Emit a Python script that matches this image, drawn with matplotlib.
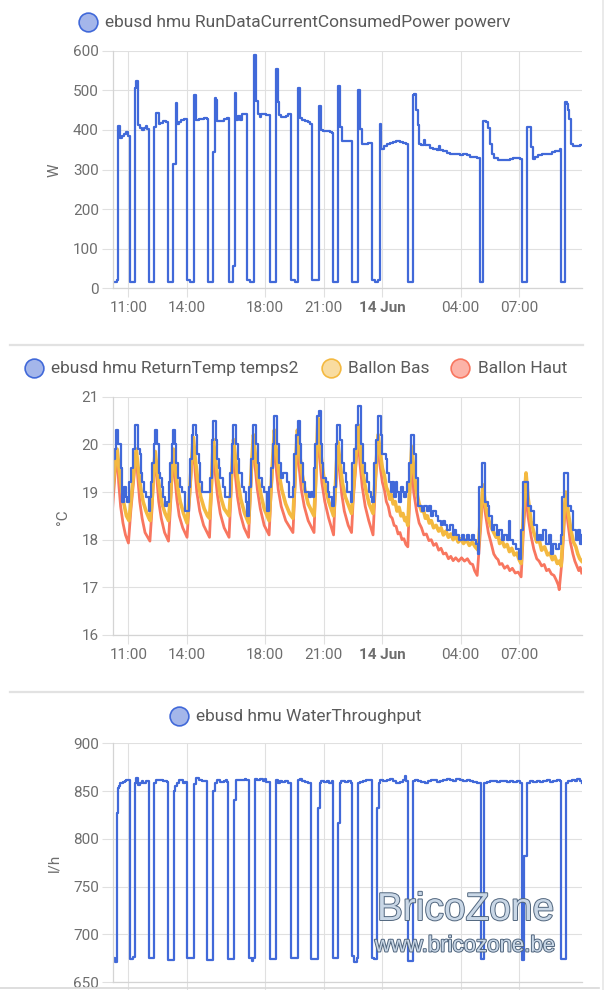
import matplotlib
matplotlib.use('Agg')
import matplotlib.pyplot as plt
from matplotlib.lines import Line2D
import matplotlib.patheffects as pe

plt.rcParams['font.family'] = ['Roboto', 'DejaVu Sans']

# time axis: hours since 13 Jun 00:00, window 10:12 -> 10:12 next day
t_start, t_end = 10.2, 34.2
tick_hours = [11, 14, 18, 21, 24, 28, 31]
tick_labels = ['11:00', '14:00', '18:00', '21:00', '14 Jun', '04:00', '07:00']

# RunDataCurrentConsumedPower (W), step values (time, value)
power_steps = [
    (10.18, 17), (10.42, 22), (10.47, 410), (10.56, 380), (10.66, 385), (10.76, 390), (10.86, 395), (10.98, 385), (11.07, 17),
    (11.36, 505), (11.41, 523), (11.51, 413), (11.58, 405), (11.67, 400), (11.78, 405), (11.89, 410), (11.96, 403), (12.06, 17),
    (12.31, 408), (12.43, 443), (12.54, 414), (12.64, 418), (12.77, 422), (12.91, 419), (13.00, 22), (13.05, 17),
    (13.29, 315), (13.41, 468), (13.51, 416), (13.59, 420), (13.71, 424), (13.83, 428), (14.00, 22), (14.14, 17),
    (14.36, 487), (14.48, 426), (14.60, 427), (14.74, 428), (14.86, 430), (15.03, 428), (15.08, 17),
    (15.33, 344), (15.42, 481), (15.47, 475), (15.51, 422), (15.64, 423), (15.78, 422), (15.91, 427), (16.07, 430), (16.15, 17),
    (16.36, 56), (16.44, 493), (16.53, 426), (16.61, 434), (16.70, 426), (16.79, 439), (16.90, 441), (17.09, 22), (17.21, 17),
    (17.42, 590), (17.52, 473), (17.62, 441), (17.72, 433), (17.81, 439), (17.93, 440), (18.06, 437), (18.27, 17),
    (18.54, 553), (18.63, 470), (18.71, 437), (18.83, 433), (18.95, 432), (19.09, 435), (19.19, 441), (19.31, 22), (19.52, 17),
    (19.69, 506), (19.79, 431), (19.89, 424), (20.03, 422), (20.20, 421), (20.28, 416), (20.39, 20),
    (20.74, 460), (20.86, 400), (20.97, 397), (21.14, 397), (21.31, 395), (21.43, 392), (21.48, 17),
    (21.73, 512), (21.82, 407), (21.92, 372), (22.46, 17),
    (22.75, 500), (22.87, 403), (22.96, 365), (23.26, 366), (23.47, 22), (23.61, 17), (23.78, 20),
    (23.86, 414), (23.95, 353), (24.07, 359), (24.21, 364), (24.38, 368), (24.55, 370), (24.72, 371), (24.89, 370), (25.06, 368), (25.23, 365), (25.30, 17),
    (25.54, 487), (25.61, 490), (25.71, 451), (25.83, 412), (25.88, 364), (26.00, 361), (26.12, 374), (26.20, 361), (26.43, 355),
    (26.60, 352), (26.77, 350), (26.90, 359), (26.97, 350), (27.08, 347), (27.28, 342), (27.45, 338), (27.62, 340), (27.79, 339),
    (27.97, 336), (28.14, 338), (28.31, 336), (28.48, 332), (28.65, 332), (28.82, 330), (28.90, 328), (28.99, 17),
    (29.16, 422), (29.28, 420), (29.38, 406), (29.50, 365), (29.62, 340), (29.71, 328), (29.93, 325), (30.19, 325), (30.36, 323),
    (30.53, 326), (30.70, 328), (30.87, 328), (31.04, 327), (31.13, 17),
    (31.38, 407), (31.59, 357), (31.69, 326), (31.81, 332), (31.98, 336), (32.15, 338), (32.32, 338), (32.50, 340), (32.67, 343),
    (32.84, 347), (33.09, 352), (33.13, 17),
    (33.35, 470), (33.44, 465), (33.50, 450), (33.57, 428), (33.64, 365), (33.78, 360), (33.95, 360), (34.12, 362), (34.20, 362),
]

# ReturnTemp temps2 (deg C), step values
return_temp = [
    (10.18, 19.0), (10.21, 19.7), (10.30, 19.9), (10.38, 20.3), (10.49, 20.0), (10.61, 19.5), (10.69, 18.8), (10.78, 19.1), (10.86, 18.9), (10.95, 18.8),
    (11.03, 19.2), (11.14, 19.5), (11.24, 19.9), (11.34, 20.4), (11.51, 19.9), (11.58, 19.8), (11.65, 19.4), (11.72, 19.2), (11.82, 19.0), (11.92, 18.9), (12.03, 18.6), (12.09, 18.9),
    (12.16, 19.2), (12.23, 19.6), (12.30, 20.0), (12.35, 20.3), (12.47, 20.0), (12.54, 19.4), (12.64, 19.3), (12.71, 19.1), (12.78, 18.9), (12.88, 18.7), (12.98, 18.8),
    (13.09, 19.2), (13.14, 19.6), (13.22, 20.0), (13.29, 20.3), (13.39, 20.0), (13.46, 19.6), (13.56, 19.3), (13.65, 19.1), (13.74, 19.0), (13.87, 18.6),
    (14.08, 19.1), (14.15, 19.7), (14.25, 20.2), (14.32, 20.4), (14.45, 20.2), (14.52, 19.8), (14.59, 19.6), (14.66, 19.2), (14.79, 19.0),
    (15.19, 19.3), (15.27, 20.1), (15.34, 20.5), (15.48, 20.1), (15.55, 19.7), (15.62, 19.5), (15.70, 19.3), (15.82, 19.1), (15.96, 18.9),
    (16.20, 19.4), (16.30, 20.0), (16.37, 20.4), (16.50, 20.0), (16.59, 19.7), (16.68, 19.4), (16.81, 19.1), (16.93, 19.0), (17.02, 18.8), (17.09, 18.5), (17.19, 19.1),
    (17.27, 19.7), (17.36, 20.4), (17.53, 20.0), (17.62, 19.6), (17.70, 19.3), (17.82, 19.1), (17.96, 19.0), (18.08, 18.6), (18.18, 19.1),
    (18.28, 19.5), (18.38, 20.0), (18.45, 20.6), (18.59, 20.0), (18.69, 19.6), (18.79, 19.3), (18.90, 19.4), (19.10, 19.2), (19.21, 18.9), (19.41, 19.1),
    (19.46, 19.8), (19.58, 20.2), (19.67, 20.5), (19.79, 20.0), (19.85, 19.6), (19.96, 19.2), (20.06, 19.0), (20.23, 18.9), (20.35, 19.0), (20.44, 18.9), (20.52, 19.5),
    (20.57, 20.0), (20.66, 20.6), (20.73, 20.7), (20.85, 20.0), (20.91, 19.6), (20.98, 19.3), (21.09, 19.2), (21.19, 19.0), (21.29, 18.9), (21.41, 18.7), (21.50, 19.1),
    (21.63, 20.0), (21.70, 20.4), (21.84, 20.1), (21.94, 19.6), (22.03, 19.4), (22.12, 19.2), (22.21, 19.0), (22.38, 18.8),
    (22.46, 19.6), (22.55, 19.9), (22.67, 20.4), (22.75, 20.8), (22.89, 20.0), (23.01, 19.6), (23.11, 19.4), (23.23, 19.2), (23.32, 19.0), (23.40, 18.9), (23.49, 18.8),
    (23.57, 19.6), (23.66, 20.1), (23.76, 20.6), (23.91, 20.2), (24.00, 19.8), (24.17, 19.7), (24.26, 19.4), (24.34, 19.2), (24.43, 19.0), (24.51, 19.2),
    (24.60, 18.9), (24.68, 19.2), (24.77, 19.0), (24.85, 18.8), (24.94, 19.1), (25.03, 19.0), (25.11, 18.9), (25.20, 19.0), (25.28, 19.2),
    (25.37, 19.6), (25.44, 20.2), (25.62, 19.8), (25.70, 19.3), (25.84, 18.7), (26.05, 18.6), (26.14, 18.7), (26.26, 18.6), (26.39, 18.7),
    (26.48, 18.5), (26.60, 18.6), (26.74, 18.5), (26.87, 18.4), (26.99, 18.3), (27.11, 18.4), (27.21, 18.3), (27.33, 18.2), (27.45, 18.3),
    (27.59, 18.1), (27.68, 18.2), (27.79, 18.1), (27.93, 18.0), (28.07, 18.1), (28.19, 18.0), (28.31, 18.1), (28.44, 18.0), (28.58, 18.1),
    (28.70, 18.0), (28.79, 17.9), (28.87, 17.7),
    (28.96, 19.1), (29.09, 19.6), (29.26, 18.8), (29.38, 18.7), (29.47, 18.5), (29.61, 18.2), (29.73, 18.3), (29.85, 18.1), (29.98, 18.2),
    (30.12, 18.0), (30.24, 18.1), (30.36, 18.0), (30.46, 18.4), (30.52, 18.0), (30.70, 17.9), (30.84, 17.8), (31.01, 17.6), (31.09, 18.2),
    (31.22, 19.2), (31.45, 18.7), (31.59, 18.6), (31.78, 18.3), (31.90, 18.0), (32.00, 18.1), (32.12, 18.0), (32.24, 18.2), (32.38, 17.9),
    (32.51, 18.1), (32.62, 17.7), (32.75, 17.9), (32.89, 17.8), (33.03, 17.9), (33.13, 18.1),
    (33.21, 18.9), (33.30, 19.4), (33.50, 18.7), (33.66, 18.6), (33.78, 18.2), (33.91, 18.0), (34.00, 18.2), (34.09, 17.9), (34.20, 18.1),
]

# Ballon Bas (deg C)
ballon_bas = [
    (10.18, 19.0), (10.30, 19.5), (10.42, 19.9), (10.52, 19.5), (10.64, 19.1), (10.77, 18.75), (10.90, 18.5), (11.03, 18.4),
    (11.15, 18.9), (11.30, 19.55), (11.40, 19.9), (11.50, 19.5), (11.62, 19.1), (11.75, 18.8), (11.90, 18.6), (12.05, 18.45), (12.12, 18.4),
    (12.22, 18.9), (12.30, 19.5), (12.37, 19.85), (12.47, 19.45), (12.60, 19.05), (12.72, 18.75), (12.88, 18.55), (13.05, 18.4),
    (13.15, 18.9), (13.23, 19.5), (13.30, 19.9), (13.40, 19.5), (13.52, 19.1), (13.65, 18.8), (13.82, 18.55), (14.00, 18.35),
    (14.12, 18.9), (14.22, 19.6), (14.32, 20.15), (14.42, 19.7), (14.55, 19.25), (14.70, 18.9), (14.88, 18.65), (15.05, 18.5), (15.15, 18.45),
    (15.22, 18.9), (15.29, 19.6), (15.35, 20.1), (15.45, 19.7), (15.58, 19.25), (15.72, 18.9), (15.90, 18.65), (16.15, 18.5),
    (16.23, 19.0), (16.31, 19.6), (16.38, 20.1), (16.48, 19.7), (16.60, 19.25), (16.75, 18.85), (16.95, 18.55), (17.15, 18.35),
    (17.23, 19.0), (17.32, 19.7), (17.40, 20.2), (17.50, 19.75), (17.63, 19.3), (17.78, 18.95), (17.95, 18.65), (18.20, 18.4),
    (18.30, 19.1), (18.40, 19.8), (18.47, 20.3), (18.57, 19.85), (18.70, 19.4), (18.85, 19.05), (19.05, 18.75), (19.25, 18.55), (19.42, 18.45),
    (19.50, 19.1), (19.58, 19.8), (19.65, 20.3), (19.75, 19.85), (19.88, 19.4), (20.03, 19.05), (20.20, 18.75), (20.50, 18.5),
    (20.57, 19.1), (20.64, 19.9), (20.70, 20.55), (20.80, 20.0), (20.93, 19.5), (21.08, 19.1), (21.25, 18.8), (21.50, 18.5),
    (21.58, 19.0), (21.65, 19.6), (21.72, 20.05), (21.82, 19.65), (21.95, 19.2), (22.10, 18.9), (22.28, 18.7), (22.42, 18.55),
    (22.52, 19.1), (22.65, 19.8), (22.77, 20.4), (22.87, 19.9), (23.00, 19.4), (23.15, 19.05), (23.32, 18.75), (23.52, 18.55),
    (23.60, 19.1), (23.70, 19.7), (23.78, 20.2), (23.90, 19.8), (24.00, 19.5), (24.10, 19.35), (24.20, 19.1), (24.30, 19.0),
    (24.38, 18.85), (24.45, 18.95), (24.55, 18.75), (24.65, 18.8), (24.75, 18.6), (24.85, 18.68), (24.95, 18.5), (25.05, 18.55),
    (25.15, 18.4), (25.22, 18.45), (25.30, 18.3),
    (25.38, 19.0), (25.50, 19.95), (25.62, 19.4), (25.75, 19.0), (25.88, 18.75), (26.00, 18.6), (26.10, 18.62), (26.20, 18.45),
    (26.30, 18.5), (26.40, 18.35), (26.50, 18.4), (26.62, 18.25), (26.75, 18.3), (26.88, 18.18), (27.00, 18.25), (27.12, 18.1),
    (27.25, 18.18), (27.38, 18.05), (27.50, 18.12), (27.62, 18.0), (27.75, 18.08), (27.88, 17.95), (28.00, 18.02), (28.15, 17.92),
    (28.30, 18.0), (28.45, 17.88), (28.60, 17.95), (28.75, 17.85), (28.90, 17.78),
    (29.02, 18.5), (29.15, 19.15), (29.28, 18.7), (29.45, 18.4), (29.58, 18.25), (29.70, 18.15), (29.82, 18.05), (29.92, 18.1),
    (30.00, 17.92), (30.12, 17.98), (30.25, 17.85), (30.38, 17.9), (30.50, 17.75), (30.62, 17.82), (30.75, 17.68), (30.88, 17.72),
    (31.00, 17.58), (31.10, 17.5),
    (31.22, 18.6), (31.35, 19.4), (31.45, 18.9), (31.60, 18.4), (31.75, 18.15), (31.90, 17.95), (32.02, 18.0), (32.15, 17.78),
    (32.30, 17.85), (32.45, 17.68), (32.58, 17.72), (32.70, 17.58), (32.82, 17.65), (32.95, 17.5), (33.05, 17.55), (33.15, 17.45),
    (33.27, 18.4), (33.38, 19.0), (33.50, 18.6), (33.65, 18.2), (33.78, 17.95), (33.90, 17.85), (34.00, 17.7), (34.10, 17.6), (34.20, 17.55),
]

# Ballon Haut (deg C)
ballon_haut = [
    (10.18, 18.6), (10.30, 19.3), (10.42, 19.85), (10.50, 19.2), (10.60, 18.7), (10.72, 18.35), (10.85, 18.1), (11.00, 17.93),
    (11.12, 18.6), (11.28, 19.3), (11.40, 19.85), (11.48, 19.3), (11.58, 18.8), (11.70, 18.45), (11.85, 18.15), (12.10, 17.97),
    (12.20, 18.6), (12.29, 19.3), (12.37, 19.85), (12.45, 19.3), (12.55, 18.8), (12.68, 18.45), (12.85, 18.15), (13.05, 17.97),
    (13.14, 18.6), (13.23, 19.3), (13.30, 19.85), (13.38, 19.3), (13.48, 18.85), (13.60, 18.5), (13.78, 18.25), (14.00, 18.05),
    (14.10, 18.7), (14.22, 19.45), (14.32, 20.1), (14.40, 19.5), (14.50, 19.0), (14.65, 18.6), (14.85, 18.3), (15.15, 18.05),
    (15.22, 18.7), (15.29, 19.4), (15.35, 20.0), (15.43, 19.45), (15.55, 18.95), (15.70, 18.55), (15.90, 18.25), (16.15, 18.05),
    (16.22, 18.7), (16.30, 19.4), (16.38, 19.95), (16.46, 19.4), (16.58, 18.9), (16.72, 18.55), (16.92, 18.25), (17.15, 18.05),
    (17.22, 18.75), (17.31, 19.5), (17.40, 20.15), (17.48, 19.55), (17.60, 19.05), (17.75, 18.65), (17.95, 18.3), (18.20, 18.1),
    (18.28, 18.8), (18.38, 19.5), (18.47, 20.15), (18.55, 19.55), (18.67, 19.05), (18.82, 18.7), (19.05, 18.4), (19.42, 18.15),
    (19.49, 18.8), (19.57, 19.5), (19.65, 20.15), (19.73, 19.55), (19.85, 19.05), (20.00, 18.7), (20.20, 18.4), (20.50, 18.15),
    (20.56, 18.85), (20.63, 19.6), (20.70, 20.4), (20.78, 19.75), (20.90, 19.2), (21.05, 18.8), (21.25, 18.45), (21.50, 18.1),
    (21.57, 18.8), (21.65, 19.4), (21.72, 20.0), (21.80, 19.45), (21.92, 18.95), (22.05, 18.6), (22.25, 18.3), (22.42, 18.15),
    (22.50, 18.8), (22.63, 19.5), (22.77, 20.15), (22.85, 19.6), (22.97, 19.1), (23.12, 18.7), (23.30, 18.4), (23.52, 18.1),
    (23.60, 18.8), (23.69, 19.5), (23.78, 20.15), (23.86, 19.6), (24.00, 19.2), (24.10, 19.05), (24.20, 18.8), (24.30, 18.7),
    (24.40, 18.5), (24.50, 18.45), (24.60, 18.3), (24.70, 18.28), (24.80, 18.12), (24.90, 18.15), (25.00, 18.0), (25.10, 18.02),
    (25.20, 17.9), (25.30, 17.85),
    (25.38, 18.7), (25.50, 19.75), (25.60, 19.0), (25.75, 18.6), (25.88, 18.35), (26.00, 18.25), (26.12, 18.1), (26.25, 18.12),
    (26.38, 17.98), (26.50, 18.0), (26.62, 17.88), (26.75, 17.92), (26.88, 17.78), (27.00, 17.82), (27.12, 17.7), (27.25, 17.72),
    (27.38, 17.6), (27.50, 17.65), (27.62, 17.56), (27.75, 17.62), (27.90, 17.55), (28.05, 17.62), (28.20, 17.55), (28.35, 17.6),
    (28.50, 17.5), (28.62, 17.48), (28.72, 17.35), (28.85, 17.25),
    (29.02, 18.2), (29.15, 19.1), (29.25, 18.6), (29.42, 18.15), (29.55, 17.95), (29.70, 17.7), (29.82, 17.62), (29.92, 17.58),
    (30.00, 17.48), (30.12, 17.5), (30.25, 17.4), (30.40, 17.45), (30.52, 17.35), (30.65, 17.4), (30.80, 17.3), (30.95, 17.32), (31.10, 17.22),
    (31.22, 18.2), (31.35, 19.0), (31.45, 18.5), (31.62, 18.05), (31.75, 17.8), (31.90, 17.6), (32.02, 17.55), (32.15, 17.45),
    (32.28, 17.48), (32.40, 17.35), (32.52, 17.38), (32.65, 17.28), (32.78, 17.25), (32.90, 17.15), (33.00, 17.05), (33.05, 16.95),
    (33.20, 17.6), (33.38, 18.85), (33.48, 18.4), (33.62, 17.95), (33.75, 17.7), (33.85, 17.55), (33.95, 17.45), (34.05, 17.35),
    (34.12, 17.42), (34.20, 17.3),
]

# WaterThroughput (l/h), step values
water_steps = [
    (10.18, 675), (10.30, 671.5), (10.39, 827), (10.47, 853.5), (10.52, 855), (10.59, 858.7), (10.73, 859.5), (10.81, 860.5), (10.90, 861.5), (11.07, 674), (11.24, 676),
    (11.34, 858.7), (11.41, 864), (11.49, 856), (11.58, 858), (11.67, 860.5), (11.75, 858.7), (11.92, 860.5), (12.06, 675),
    (12.31, 858.7), (12.43, 861.5), (12.60, 862), (12.77, 860.5), (12.95, 859.5), (13.03, 673),
    (13.32, 850), (13.39, 855), (13.49, 858.7), (13.59, 862), (13.71, 861.5), (13.80, 858.7), (13.92, 859.5), (14.00, 675),
    (14.36, 857), (14.48, 864), (14.60, 861.5), (14.74, 860.5), (14.91, 860.5), (15.03, 673),
    (15.33, 850), (15.42, 858), (15.54, 862), (15.68, 859.5), (15.88, 860.5), (15.98, 862), (16.07, 859.5), (16.10, 674),
    (16.41, 840.5), (16.49, 861.5), (16.61, 862), (16.79, 861.5), (16.96, 863), (17.04, 862), (17.16, 675), (17.30, 672), (17.38, 675),
    (17.48, 863), (17.59, 862), (17.72, 863), (17.89, 860.5), (17.98, 863), (18.06, 859.5), (18.24, 674),
    (18.53, 861.5), (18.63, 858.7), (18.75, 860.5), (18.88, 859.5), (19.00, 860.5), (19.17, 858.7), (19.31, 675),
    (19.69, 861.5), (19.77, 863), (19.86, 860.5), (20.03, 859.5), (20.20, 858.7), (20.32, 858), (20.37, 674),
    (20.71, 832.5), (20.80, 858.7), (20.88, 860.5), (21.00, 859.5), (21.14, 860.5), (21.27, 858.7), (21.43, 860.5), (21.48, 675),
    (21.73, 816.8), (21.82, 858.7), (21.90, 860.5), (22.08, 859.5), (22.25, 860.5), (22.41, 858),
    (22.46, 677), (22.56, 671.5), (22.70, 675),
    (22.75, 858.7), (22.84, 859.5), (23.01, 860.5), (23.18, 861.5), (23.35, 862), (23.47, 675), (23.57, 674),
    (23.73, 832.5), (23.81, 858.7), (23.86, 861.5), (24.03, 860.5), (24.21, 862), (24.38, 863), (24.55, 860.5), (24.72, 858.7),
    (24.89, 859.5), (25.06, 861.5), (25.18, 865.7), (25.23, 860.5), (25.32, 672.6),
    (25.54, 860.5), (25.66, 862), (25.83, 860.5), (26.00, 859.5), (26.17, 858.7), (26.34, 860.5), (26.51, 861.5), (26.77, 859.5),
    (26.94, 860.5), (27.11, 861.5), (27.28, 863), (27.45, 862), (27.62, 860.5), (27.79, 863), (27.97, 862), (28.14, 860.5),
    (28.31, 861.5), (28.48, 860.5), (28.65, 859.5), (28.82, 858.7), (28.99, 858), (29.03, 674),
    (29.20, 858.7), (29.33, 859.5), (29.50, 860.5), (29.68, 860.5), (29.85, 859.5), (30.02, 860.5), (30.19, 860.5), (30.36, 859.5),
    (30.53, 860.5), (30.70, 859.5), (30.87, 860.5), (31.04, 858.7), (31.13, 673),
    (31.26, 781.8), (31.38, 858.7), (31.56, 860.5), (31.73, 859.5), (31.90, 860.5), (32.07, 859.5), (32.24, 860.5), (32.41, 861.5),
    (32.58, 859.5), (32.75, 860.5), (32.92, 861.5), (33.09, 860.5), (33.16, 674),
    (33.38, 858.7), (33.52, 860.5), (33.69, 862), (33.86, 860.5), (33.98, 863), (34.09, 860.5), (34.20, 858.7),
]

BLUE = '#4169d9'
YELLOW = '#f4b940'
RED = '#f8765f'
GRID = '#e0e0e0'
TICK_TXT = '#6e6e6e'
LEG_TXT = '#5a5a5a'

W, H = 610, 990


def fx(x):
    return x / W


def fy(y):
    return 1 - y / H


def make_axes(fig, top, bottom, left=112.8, right=581.7):
    return fig.add_axes([fx(left), fy(bottom), (right - left) / W, (bottom - top) / H])


def style(ax, ylim, yticks):
    ax.set_xlim(t_start, t_end)
    ax.set_ylim(*ylim)
    ax.set_yticks(yticks)
    ax.set_yticklabels([str(v) for v in yticks])
    ax.set_xticks(tick_hours)
    ax.set_xticklabels(tick_labels)
    ax.get_xticklabels()[4].set_fontweight('bold')
    ax.grid(True, color=GRID, lw=0.8)
    ax.set_axisbelow(True)
    for s in ['top', 'right']:
        ax.spines[s].set_visible(False)
    for s in ['left', 'bottom']:
        ax.spines[s].set_color('#d4d4d4')
        ax.spines[s].set_linewidth(0.9)
    ax.tick_params(axis='y', length=7.6, width=0.8, color=GRID, labelcolor=TICK_TXT, labelsize=11, pad=2.5)
    ax.tick_params(axis='x', length=6.5, width=0.8, color=GRID, labelcolor=TICK_TXT, labelsize=11, pad=3)


def legend_item(fig, x, y, fc, ec, label, size=12.5):
    fig.add_artist(Line2D([fx(x)], [fy(y)], marker='o', ms=13.5, mfc=fc, mec=ec, mew=1.2,
                          transform=fig.transFigure))
    fig.text(fx(x + 17.5), fy(y), label, fontsize=size, color=LEG_TXT, ha='left', va='center')


def unzip(pairs):
    return [p[0] for p in pairs], [p[1] for p in pairs]


fig = plt.figure(figsize=(6.1, 9.9), dpi=100)

# --- power ---
ax1 = make_axes(fig, 50.7, 288.3)
t, v = unzip(power_steps)
ax1.step(t, v, where='post', color=BLUE, lw=1.6)
style(ax1, (0, 600), list(range(0, 601, 100)))
legend_item(fig, 87.5, 22, '#a4b6ea', BLUE, 'ebusd hmu RunDataCurrentConsumedPower powerv')
fig.text(fx(54.5), fy(170), 'W', rotation=90, fontsize=11, color=TICK_TXT, ha='center', va='center')

# --- temperatures ---
ax2 = make_axes(fig, 396.7, 635.0)
t, v = unzip(ballon_haut)
ax2.plot(t, v, color=RED, lw=2.0)
t, v = unzip(ballon_bas)
ax2.plot(t, v, color=YELLOW, lw=2.6)
t, v = unzip(return_temp)
ax2.step(t, v, where='post', color=BLUE, lw=1.6)
style(ax2, (16, 21), list(range(16, 22)))
legend_item(fig, 33.8, 368.3, '#a4b6ea', BLUE, 'ebusd hmu ReturnTemp temps2')
legend_item(fig, 331, 368.3, '#f9dca0', YELLOW, 'Ballon Bas')
legend_item(fig, 460, 368.3, '#fcb3a8', RED, 'Ballon Haut')
fig.text(fx(63.4), fy(516.7), '°C', rotation=90, fontsize=11, color=TICK_TXT, ha='center', va='center')

# --- water throughput (x labels fall below the visible card) ---
ax3 = make_axes(fig, 743.3, 982.3)
t, v = unzip(water_steps)
ax3.step(t, v, where='post', color=BLUE, lw=1.6)
style(ax3, (650, 900), list(range(650, 901, 50)))
ax3.tick_params(axis='x', labelbottom=False)
legend_item(fig, 179, 716, '#a4b6ea', BLUE, 'ebusd hmu WaterThroughput')
fig.text(fx(54.5), fy(862.7), 'l/h', rotation=90, fontsize=11, color=TICK_TXT, ha='center', va='center')

# card separators and border
for yy in [344.5, 691.5]:
    fig.add_artist(Line2D([fx(10), fx(583)], [fy(yy), fy(yy)], color='#e2e2e2', lw=1.6, transform=fig.transFigure))
fig.add_artist(Line2D([fx(0), fx(599)], [fy(987.7), fy(987.7)], color='#d8d8d8', lw=1.2, transform=fig.transFigure))
fig.add_artist(Line2D([fx(603), fx(603)], [0, 1], color='#e6e6e6', lw=1.2, transform=fig.transFigure))

# watermark
outline = [pe.Stroke(linewidth=1.4, foreground='#51667e'), pe.Normal()]
fig.text(fx(465.5), fy(910), 'BricoZone', family='Liberation Sans', fontsize=28, color='#c9d7e6',
         ha='center', va='center', path_effects=outline)
fig.text(fx(465), fy(946), 'www.bricozone.be', family='Liberation Sans', fontsize=16, color='#c9d7e6',
         ha='center', va='center', path_effects=outline)

fig.savefig('out.png', dpi=100)
